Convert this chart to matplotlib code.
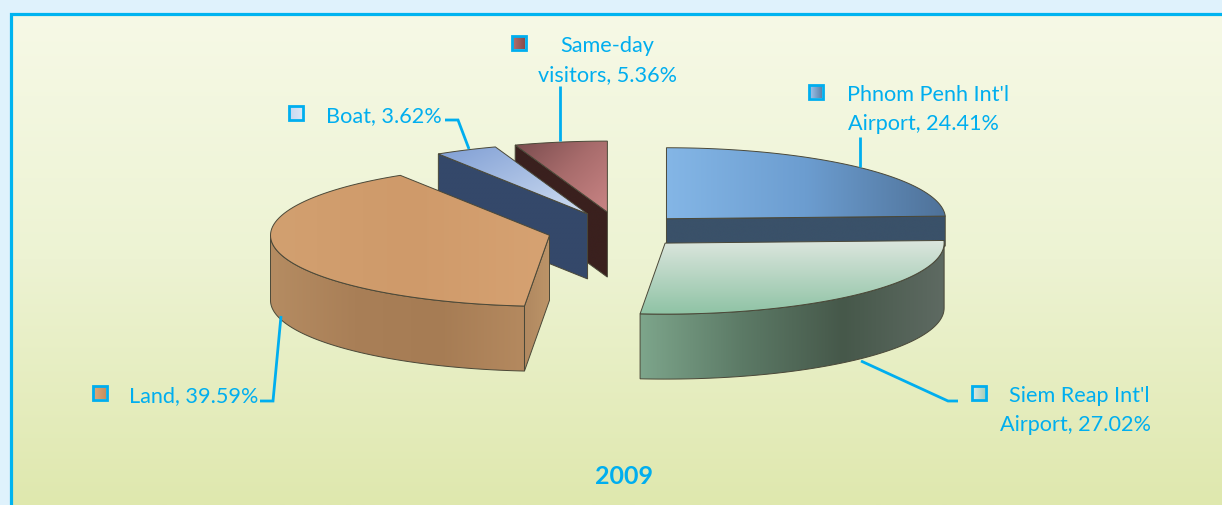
import numpy as np
import matplotlib
matplotlib.use("Agg")
import matplotlib.pyplot as plt
from matplotlib.colors import LinearSegmentedColormap
from matplotlib.patches import Polygon

plt.rcParams["font.family"] = ["Lato", "DejaVu Sans"]

# Data, clockwise from 12 o'clock
categories = ["Phnom Penh Int'l Airport", "Siem Reap Int'l Airport", "Land", "Boat", "Same-day visitors"]
shares = [24.41, 27.02, 39.59, 3.62, 5.36]
year_label = "2009"

# Pie layout in pixels (axes use the picture's own coordinates)
W, H = 1222, 506
CX, CY = 620, 232
RX, RY = 279, 71
DEPTH = 65
EXPLODE = [0.24, 0.235, 0.26, 0.267, 0.27]

CYAN = "#00AEEF"
EDGE = "#4a4838"

fig = plt.figure(figsize=(W / 100, H / 100), dpi=100, facecolor="#DFF2FC")
ax = fig.add_axes([0, 0, 1, 1])
ax.axis("off")


def gradient(poly, colors, direction=(1, 0), z=1, edge=True):
    # fill a polygon with a linear gradient, clipped to its outline
    poly = np.asarray(poly)
    x0, y0 = poly.min(axis=0)
    x1, y1 = poly.max(axis=0)
    xs, ys = np.meshgrid(np.linspace(0, 1, 200), np.linspace(0, 1, 200))
    t = xs * direction[0] * (x1 - x0) + ys * direction[1] * (y1 - y0)
    t = (t - t.min()) / (t.max() - t.min())
    cmap = LinearSegmentedColormap.from_list("g", colors)
    im = ax.imshow(t, cmap=cmap, extent=(x0, x1, y1, y0), aspect="auto", zorder=z, interpolation="bilinear")
    patch = Polygon(poly, closed=True, fc="none", ec=EDGE if edge else "none", lw=0.7, zorder=z + 0.1)
    ax.add_patch(patch)
    im.set_clip_path(patch)


def rim(c, a0, a1):
    a = np.radians(np.linspace(a0, a1, 80))
    return np.column_stack([c[0] + RX * np.sin(a), c[1] - RY * np.cos(a)])


# Slice angles and exploded centres come from the shares
edges = np.concatenate([[0], np.cumsum(shares)]) / np.sum(shares) * 360
centres = []
for i in range(len(shares)):
    mid = np.radians((edges[i] + edges[i + 1]) / 2)
    centres.append((CX + EXPLODE[i] * RX * np.sin(mid), CY - EXPLODE[i] * RY * np.cos(mid)))


def top_face(i):
    return np.vstack([[centres[i]], rim(centres[i], edges[i], edges[i + 1])])


def cut_face(i, angle, depth=DEPTH):
    c = np.array(centres[i])
    p = rim(c, angle, angle)[0]
    return [c, p, p + [0, depth], c + [0, depth]]


def curved_side(i, a0, a1):
    top = rim(centres[i], a0, a1)
    return np.vstack([top, top[::-1] + [0, DEPTH]])


# Background panel
bg = ax.imshow(np.linspace(0, 1, 256).reshape(-1, 1),
               cmap=LinearSegmentedColormap.from_list("bg", ["#F6F9E6", "#EDF3D3", "#DFE8AE"]),
               extent=(11, W, H, 15), aspect="auto", zorder=0)
ax.plot([10.5, 10.5, W], [H, 14.5, 14.5], color="#00B4F0", lw=2.3, zorder=0.5, solid_joinstyle="miter")

# Painter's order: back slices first
# Phnom Penh (lower part of its cut face sits behind Siem Reap)
gradient(cut_face(0, edges[1], 30), ["#3A5169", "#3A5169"], z=1)
gradient(top_face(0), ["#84B6E6", "#6C9DD0", "#4F7299"], z=1.2)
# Same-day
gradient(cut_face(4, edges[4]), ["#3A201E", "#3A201E"], z=2)
gradient(top_face(4), ["#7A4C4E", "#A86C6C", "#C98484"], (1, 1), z=2.2)
# Boat
gradient(cut_face(3, edges[3]), ["#34486A", "#34486A"], z=3)
gradient(top_face(3), ["#7F9ED4", "#D0DEF2"], (0.5, 1), z=3.2)
# Land
gradient(cut_face(2, edges[2]), ["#B08860", "#BC9468"], z=4)
gradient(curved_side(2, edges[2], 270), ["#B4895F", "#A67C54", "#A97F57", "#B58C62"], (-1, 0), z=4.1)
gradient(top_face(2), ["#D2A070", "#CF9A6A", "#D6A272"], z=4.2)
# Siem Reap
gradient(curved_side(1, 90, edges[2]), ["#5E6A62", "#46584A", "#5C7A66", "#7DA58B"], (-1, 0), z=5)
gradient(top_face(1), ["#DCE6DE", "#8FC3A5"], (0, 1), z=5.2)

# Leader lines
leaders = [
    ([560, 560], [87, 142]),
    ([860, 860], [138, 168]),
    ([445, 458, 469], [121, 121, 150]),
    ([260, 273, 281], [402, 402, 317]),
    ([958, 948, 861], [402, 402, 362]),
]
for xs, ys in leaders:
    ax.plot(xs, ys, color=CYAN, lw=2, zorder=6, solid_joinstyle="miter", solid_capstyle="butt")

# Legend keys beside the labels
keys = [(816, 93), (979, 394), (100, 394), (296, 114), (519, 44)]
key_colors = [("#9CC4EC", "#5F82A9"), ("#DCE8E2", "#A8D0BC"), ("#E0A878", "#C58E5E"), ("#C8D8F0", "#DCE6F6"), ("#B07070", "#8A4A4A")]
for (kx, ky), (c0, c1) in zip(keys, key_colors):
    ax.add_patch(Polygon([(kx - 7, ky - 7), (kx + 7, ky - 7), (kx + 7, ky + 7), (kx - 7, ky + 7)],
                         closed=True, fc="none", ec=CYAN, lw=2, zorder=7))
    gradient([(kx - 6, ky - 6), (kx + 6, ky - 6), (kx + 6, ky + 6), (kx - 6, ky + 6)], [c0, c1], z=6.8, edge=False)

# Labels
FS = 15.6
labels = [
    ("Phnom Penh Int'l", 928, 95), (f"Airport, {shares[0]:.2f}%", 923, 124),
    ("Siem Reap Int'l", 1079, 396), (f"Airport, {shares[1]:.2f}%", 1075, 425),
    (f"{categories[2]}, {shares[2]:.2f}%", 194, 396),
    (f"{categories[3]}, {shares[3]:.2f}%", 384, 116),
    ("Same-day", 607, 46), (f"visitors, {shares[4]:.2f}%", 607.5, 75),
]
for s, x, y in labels:
    ax.text(x, y, s, color=CYAN, fontsize=FS, ha="center", va="center", zorder=8)
ax.text(624, 477, year_label, color=CYAN, fontsize=18, fontweight="bold", ha="center", va="center", zorder=8)

ax.set_xlim(0, W)
ax.set_ylim(H, 0)
fig.savefig("out.png", dpi=100, facecolor=fig.get_facecolor())
